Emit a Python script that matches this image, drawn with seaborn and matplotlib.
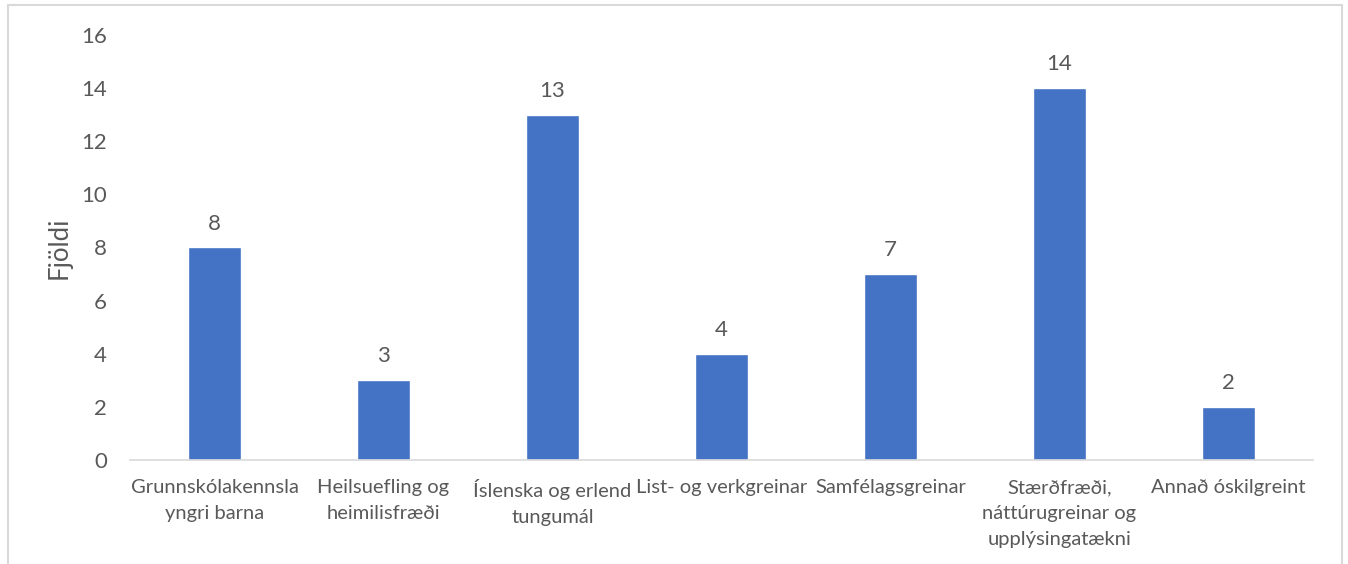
import matplotlib
matplotlib.use("Agg")
import matplotlib.pyplot as plt
import matplotlib.patches as patches
import seaborn as sns
import pandas as pd

# DATA
categories = [
    "Grunnskólakennsla\nyngri barna",
    "Heilsuefling og\nheimilisfræði",
    "Íslenska og erlend\ntungumál",
    "List- og verkgreinar",
    "Samfélagsgreinar",
    "Stærðfræði,\nnáttúrugreinar og\nupplýsingatækni",
    "Annað óskilgreint",
]
counts = [8, 3, 13, 4, 7, 14, 2]
y_ticks = [0, 2, 4, 6, 8, 10, 12, 14, 16]

BAR = "#4472C4"
TXT = "#595959"
AXIS = "#D9D9D9"

sns.set_theme(style="white")
plt.rcParams["font.family"] = ["Lato", "DejaVu Sans"]

df = pd.DataFrame({"cat": categories, "n": counts})

fig = plt.figure(figsize=(13.48, 5.64), dpi=100)
ax = fig.add_axes([0.0964, 0.1844, 0.8776, 0.7536])

sns.barplot(data=df, x="cat", y="n", color=BAR, width=0.31, saturation=1, ax=ax)

for i, v in enumerate(counts):
    ax.text(i, v + 0.52, str(v), ha="center", va="bottom", fontsize=16, color=TXT)

ax.set_ylim(0, 16)
ax.set_xlim(-0.5, len(categories) - 0.5)
ax.set_yticks(y_ticks)
ax.set_yticklabels([str(t) for t in y_ticks], fontsize=16, color=TXT)
ax.set_xticks(range(len(categories)))
ax.set_xticklabels(categories, fontsize=14.5, color=TXT, linespacing=1.62)
ax.tick_params(axis="x", length=0, pad=14)
ax.tick_params(axis="y", length=0, pad=16.5)
ax.set_xlabel("")
ax.set_ylabel("Fjöldi", fontsize=18.5, color=TXT, labelpad=7)

for s in ["top", "right", "left"]:
    ax.spines[s].set_visible(False)
ax.spines["bottom"].set_color(AXIS)
ax.spines["bottom"].set_linewidth(1.2)

# light outer border of the chart area
fig.patches.append(patches.Rectangle((8 / 1348, -0.05), 1334 / 1348, 1.05 - 5 / 564,
                                     transform=fig.transFigure, fill=False,
                                     edgecolor=AXIS, linewidth=1.5))

fig.savefig("out.png", dpi=100)
